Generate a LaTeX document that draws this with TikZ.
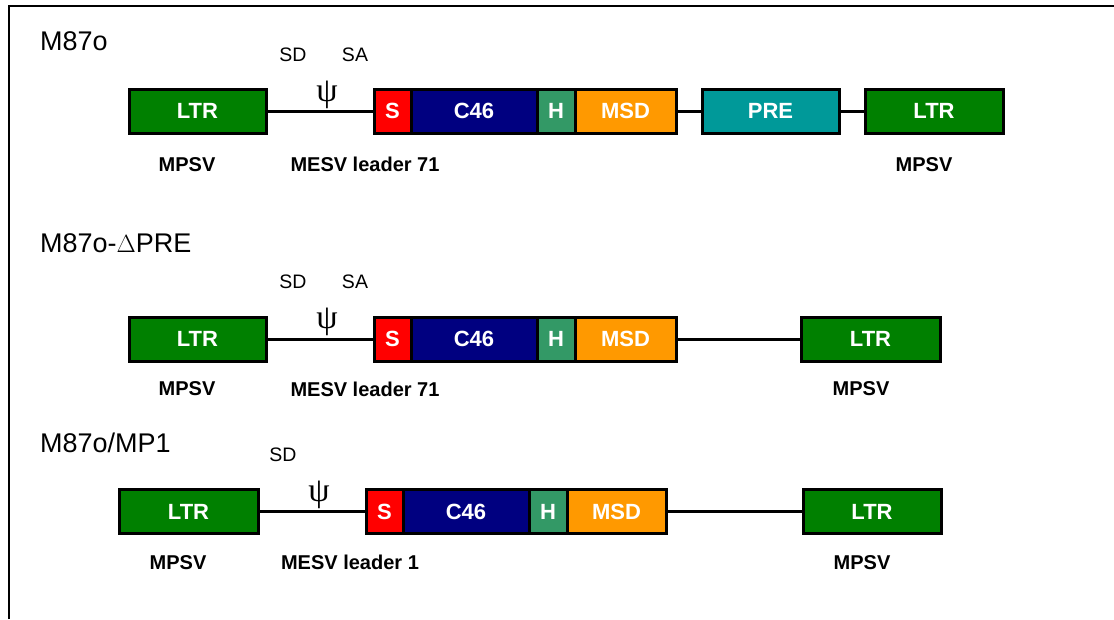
\documentclass[tikz,border=0pt]{standalone}
\usepackage{fontspec}
\setmainfont{Liberation Sans}
\newfontfamily\psifont{Liberation Serif}
\definecolor{ltrgreen}{HTML}{008000}
\definecolor{sred}{HTML}{FF0000}
\definecolor{cnavy}{HTML}{000080}
\definecolor{hgreen}{HTML}{339966}
\definecolor{msdorange}{HTML}{FF9900}
\definecolor{preteal}{HTML}{009999}
\tikzset{
  seg/.style={draw=black, line width=3pt, minimum height=44pt, inner sep=0pt,
    text=white, font=\fontsize{22}{24}\selectfont\bfseries},
  conn/.style={draw=black, line width=3pt},
  title/.style={anchor=base west, inner sep=0pt, font=\fontsize{27}{30}\selectfont},
  lab/.style={inner sep=0pt, font=\fontsize{20}{22}\selectfont\bfseries},
  site/.style={inner sep=0pt, font=\fontsize{19.5}{21}\selectfont},
  psi/.style={inner sep=0pt, font=\psifont\fontsize{34}{36}\selectfont},
}
\begin{document}
\begin{tikzpicture}[x=1pt,y=-1pt]
\useasboundingbox (0,0) rectangle (1114,619);
\draw[line width=2pt] (9,619) -- (9,6) -- (1114,6);

% ---------- Row 1: M87o ----------
\node[title] (t1) at (40,50) {M87o};
\node[site] (sd1) at (293,55) {SD};
\node[site] (sa1) at (355,55) {SA};
\node[psi] (p1) at (327,95) {ψ};
\node[seg, fill=ltrgreen, minimum width=137pt] (l1a) at (197.5,111) {LTR};
\node[seg, fill=sred, minimum width=37pt] (s1) at (392.5,111) {S};
\node[seg, fill=cnavy, minimum width=126pt] (c1) at (474,111) {C46};
\node[seg, fill=hgreen, minimum width=38pt] (h1) at (556,111) {H};
\node[seg, fill=msdorange, minimum width=101pt] (m1) at (625.5,111) {MSD};
\node[seg, fill=preteal, minimum width=137pt] (r1) at (770.5,111) {PRE};
\node[seg, fill=ltrgreen, minimum width=138pt] (l1b) at (934,111) {LTR};
\draw[conn] (l1a.east) -- (s1.west);
\draw[conn] (m1.east) -- (r1.west);
\draw[conn] (r1.east) -- (l1b.west);
\node[lab] (mp1a) at (187,164.5) {MPSV};
\node[lab] (me1) at (365,164.5) {MESV leader 71};
\node[lab] (mp1b) at (924,164.5) {MPSV};

% ---------- Row 2: M87o-dPRE ----------
\node[title] (t2) at (40,252) {M87o-$\Delta$PRE};
\node[site] (sd2) at (293,281.5) {SD};
\node[site] (sa2) at (355,281.5) {SA};
\node[psi] (p2) at (327,321.5) {ψ};
\node[seg, fill=ltrgreen, minimum width=137pt] (l2a) at (197.5,339) {LTR};
\node[seg, fill=sred, minimum width=37pt] (s2) at (392.5,339) {S};
\node[seg, fill=cnavy, minimum width=126pt] (c2) at (474,339) {C46};
\node[seg, fill=hgreen, minimum width=38pt] (h2) at (556,339) {H};
\node[seg, fill=msdorange, minimum width=101pt] (m2) at (625.5,339) {MSD};
\node[seg, fill=ltrgreen, minimum width=139pt] (l2b) at (870.5,339) {LTR};
\draw[conn] (l2a.east) -- (s2.west);
\draw[conn] (m2.east) -- (l2b.west);
\node[lab] (mp2a) at (187,389) {MPSV};
\node[lab] (me2) at (365,389) {MESV leader 71};
\node[lab] (mp2b) at (861,389) {MPSV};

% ---------- Row 3: M87o/MP1 ----------
\node[title] (t3) at (40,452) {M87o/MP1};
\node[site] (sd3) at (283,455) {SD};
\node[psi] (p3) at (319,495) {ψ};
\node[seg, fill=ltrgreen, minimum width=139pt] (l3a) at (188.5,511.5) {LTR};
\node[seg, fill=sred, minimum width=37pt] (s3) at (384.5,511.5) {S};
\node[seg, fill=cnavy, minimum width=126pt] (c3) at (466,511.5) {C46};
\node[seg, fill=hgreen, minimum width=38pt] (h3) at (548,511.5) {H};
\node[seg, fill=msdorange, minimum width=99pt] (m3) at (616.5,511.5) {MSD};
\node[seg, fill=ltrgreen, minimum width=138pt] (l3b) at (872,511.5) {LTR};
\draw[conn] (l3a.east) -- (s3.west);
\draw[conn] (m3.east) -- (l3b.west);
\node[lab] (mp3a) at (178,562.5) {MPSV};
\node[lab] (me3) at (350,562.5) {MESV leader 1};
\node[lab] (mp3b) at (862,562.5) {MPSV};
\end{tikzpicture}
\end{document}
